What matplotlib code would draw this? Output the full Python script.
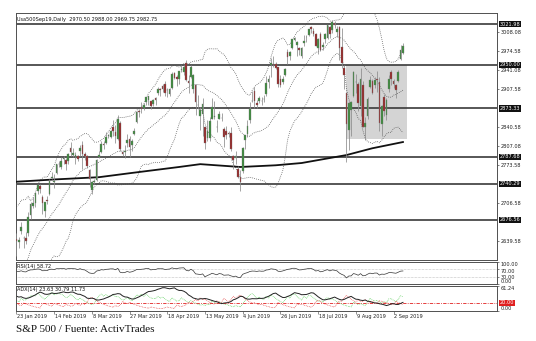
import numpy as np
import matplotlib
matplotlib.use("Agg")
import matplotlib.pyplot as plt
import matplotlib.transforms as mtrans

# ---------------- data ----------------
# warm-up bars (3 Dec 2018 - 22 Jan 2019), off-screen, used for the indicators
pre_opens = [2790, 2785, 2690, 2695, 2630, 2650, 2645, 2655, 2640, 2595, 2550, 2548, 2500, 2466, 2400, 2363,
             2442, 2498, 2498, 2477, 2491, 2474, 2535, 2568, 2580, 2573, 2588, 2580, 2585, 2614, 2610, 2651,
             2668, 2660]
pre_highs = [2800, 2790, 2700, 2708, 2642, 2674, 2685, 2670, 2645, 2602, 2573, 2585, 2510, 2505, 2410, 2468,
             2490, 2520, 2509, 2519, 2493, 2538, 2566, 2580, 2596, 2598, 2597, 2590, 2613, 2632, 2646, 2675,
             2670, 2662]
pre_lows = [2765, 2695, 2622, 2625, 2583, 2620, 2645, 2637, 2593, 2530, 2538, 2490, 2441, 2408, 2346, 2347,
            2397, 2472, 2482, 2467, 2444, 2474, 2525, 2547, 2568, 2562, 2581, 2570, 2585, 2612, 2601, 2648,
            2655, 2617]
pre_closes = [2790, 2700, 2696, 2633, 2638, 2637, 2651, 2651, 2600, 2546, 2546, 2507, 2467, 2417, 2351, 2468,
              2489, 2486, 2507, 2510, 2448, 2532, 2550, 2574, 2585, 2597, 2596, 2583, 2610, 2616, 2636, 2671,
              2662, 2633]

# visible daily bars, 23 Jan 2019 - 6 Sep 2019
opens = [2643, 2638, 2657, 2644, 2645, 2653, 2685, 2702, 2706, 2727, 2736, 2717, 2692, 2712, 2722, 2750,
         2743, 2760, 2776, 2770, 2784, 2782, 2780, 2804, 2792, 2787, 2789, 2799, 2809, 2793, 2790, 2765,
         2730, 2743, 2747, 2787, 2796, 2810, 2812, 2824, 2823, 2841, 2831, 2819, 2848, 2796, 2797, 2813,
         2820, 2809, 2828, 2849, 2868, 2876, 2874, 2884, 2888, 2886, 2881, 2892, 2900, 2908, 2912, 2916,
         2905, 2899, 2910, 2935, 2928, 2926, 2941, 2937, 2953, 2922, 2929, 2908, 2914, 2880, 2860, 2863,
         2840, 2821, 2821, 2855, 2858, 2841, 2855, 2857, 2837, 2833, 2830, 2830, 2790, 2786, 2767, 2752,
         2763, 2818, 2829, 2853, 2886, 2904, 2882, 2887, 2886, 2890, 2898, 2920, 2949, 2952, 2952, 2946,
         2926, 2919, 2932, 2972, 2965, 2979, 2994, 2985, 2980, 2966, 2989, 2999, 3003, 3017, 3010, 3005,
         2979, 3005, 2982, 2995, 2998, 3017, 3011, 3024, 3008, 3017, 2981, 2945, 2900, 2835, 2870, 2896,
         2920, 2916, 2877, 2915, 2840, 2860, 2911, 2921, 2915, 2925, 2920, 2845, 2893, 2862, 2907, 2938,
         2921, 2915, 2922, 2960, 2970.50]
highs = [2653, 2647, 2673, 2648, 2655, 2690, 2708, 2717, 2725, 2740, 2740, 2720, 2709, 2719, 2748, 2761,
         2758, 2776, 2781, 2788, 2790, 2785, 2794, 2814, 2803, 2796, 2792, 2808, 2816, 2796, 2791, 2767,
         2745, 2748, 2784, 2799, 2816, 2815, 2831, 2828, 2836, 2852, 2844, 2861, 2851, 2799, 2809, 2829,
         2825, 2820, 2838, 2869, 2872, 2885, 2882, 2894, 2895, 2887, 2890, 2894, 2911, 2909, 2917, 2921,
         2909, 2910, 2937, 2937, 2933, 2940, 2950, 2949, 2959, 2932, 2949, 2934, 2917, 2897, 2875, 2891,
         2841, 2853, 2859, 2892, 2886, 2853, 2868, 2865, 2840, 2842, 2834, 2841, 2792, 2799, 2772, 2764,
         2806, 2827, 2852, 2885, 2904, 2911, 2888, 2896, 2894, 2897, 2931, 2932, 2962, 2965, 2955, 2947,
         2933, 2930, 2944, 2978, 2974, 2996, 3000, 2992, 2982, 2981, 3003, 3003, 3014, 3018, 3015, 3006,
         2998, 3008, 2990, 3006, 3020, 3019, 3029, 3027, 3018, 3018, 3015, 2950, 2901, 2885, 2886, 2940,
         2934, 2920, 2945, 2922, 2858, 2893, 2931, 2925, 2928, 2940, 2928, 2880, 2898, 2891, 2932, 2941,
         2926, 2917, 2941, 2985, 2988.00]
lows = [2613, 2627, 2652, 2627, 2634, 2648, 2678, 2697, 2700, 2723, 2725, 2687, 2681, 2705, 2720, 2749,
        2733, 2757, 2770, 2767, 2775, 2765, 2776, 2790, 2787, 2776, 2780, 2790, 2767, 2782, 2768, 2735,
        2722, 2740, 2745, 2785, 2795, 2801, 2810, 2821, 2821, 2824, 2812, 2817, 2799, 2789, 2785, 2805,
        2787, 2798, 2826, 2848, 2858, 2865, 2870, 2880, 2880, 2873, 2878, 2879, 2897, 2896, 2902, 2896,
        2893, 2896, 2908, 2926, 2913, 2917, 2937, 2932, 2921, 2901, 2927, 2900, 2862, 2873, 2836, 2825,
        2801, 2816, 2815, 2855, 2854, 2831, 2854, 2851, 2805, 2820, 2823, 2799, 2766, 2776, 2750, 2728,
        2759, 2801, 2822, 2847, 2884, 2874, 2874, 2883, 2880, 2884, 2895, 2910, 2929, 2946, 2943, 2911,
        2911, 2917, 2930, 2952, 2958, 2978, 2992, 2966, 2968, 2963, 2984, 2991, 3001, 3007, 3001, 2984,
        2970, 2975, 2976, 2988, 2996, 2998, 3007, 3015, 3000, 2958, 2945, 2908, 2778, 2800, 2824, 2894,
        2900, 2868, 2860, 2840, 2818, 2855, 2909, 2898, 2910, 2902, 2834, 2825, 2860, 2853, 2903, 2914,
        2910, 2891, 2920, 2958, 2969.75]
closes = [2639, 2642, 2665, 2644, 2640, 2681, 2704, 2707, 2725, 2738, 2732, 2706, 2708, 2710, 2745, 2753,
          2746, 2776, 2775, 2780, 2785, 2775, 2793, 2796, 2794, 2792, 2784, 2804, 2793, 2790, 2771, 2749,
          2743, 2745, 2783, 2792, 2811, 2808, 2822, 2826, 2833, 2833, 2824, 2855, 2801, 2793, 2798, 2818,
          2805, 2815, 2834, 2867, 2867, 2873, 2879, 2893, 2896, 2878, 2888, 2888, 2907, 2906, 2907, 2900,
          2905, 2908, 2934, 2927, 2926, 2940, 2943, 2946, 2924, 2918, 2946, 2932, 2884, 2879, 2871, 2881,
          2812, 2834, 2851, 2876, 2860, 2840, 2864, 2856, 2822, 2826, 2828, 2802, 2783, 2789, 2752, 2744,
          2803, 2826, 2843, 2873, 2887, 2886, 2880, 2892, 2887, 2890, 2918, 2926, 2954, 2950, 2945, 2917,
          2914, 2925, 2942, 2964, 2973, 2996, 2998, 2990, 2976, 2980, 2993, 3000, 3014, 3014, 3004, 2984,
          2995, 2977, 2985, 3005, 3020, 3004, 3026, 3021, 3013, 2980, 2954, 2932, 2845, 2882, 2884, 2938,
          2919, 2883, 2926, 2841, 2848, 2889, 2924, 2901, 2924, 2923, 2847, 2878, 2869, 2888, 2925, 2926,
          2917, 2906, 2938, 2976, 2982.75]

# 200-period moving average, read at a few bars
ma200_bars = [0, 16, 35, 48, 69, 78, 95, 110, 121, 140, 151, 164]
ma200_vals = [2744, 2748, 2752, 2759, 2770, 2775, 2770, 2773, 2777, 2791, 2803, 2814]

# horizontal levels
levels = [3021.98, 2950.00, 2873.33, 2787.68, 2740.29, 2676.56]

# shaded range box (bars and prices)
box_bars = [140, 165.8]
box_prices = [2819, 2950.00]

# axis labels
price_ticks = [2639.58, 2706.58, 2773.58, 2807.08, 2840.58, 2907.58, 2941.08, 2974.58, 3008.08]
date_bars = [0, 16, 32, 48, 64, 80, 96, 112, 128, 144, 160]
date_labels = ['23 Jan 2019', '14 Feb 2019', '8 Mar 2019', '27 Mar 2019', '18 Apr 2019', '13 May 2019',
               '4 Jun 2019', '26 Jun 2019', '18 Jul 2019', '9 Aug 2019', '2 Sep 2019']
title_text = 'Usa500Sep19,Daily  2970.50 2988.00 2969.75 2982.75'
rsi_text = 'RSI(14) 58.72'
adx_text = 'ADX(14) 23.63 30.79 11.73'
caption = 'S&P 500 / Fuente: ActivTrades'

# ---------------- indicators ----------------
H = np.array(pre_highs + highs, float)
L = np.array(pre_lows + lows, float)
C = np.array(pre_closes + closes, float)
npre = len(pre_closes)
n = len(closes)


def ema(x, alpha):
    out = np.empty_like(x)
    out[0] = x[0]
    for i in range(1, len(x)):
        out[i] = alpha * x[i] + (1 - alpha) * out[i - 1]
    return out


# Bollinger bands (20, 2)
per = 20
mid = np.full(len(C), np.nan)
sd = np.full(len(C), np.nan)
for i in range(per - 1, len(C)):
    w = C[i - per + 1:i + 1]
    mid[i] = w.mean()
    sd[i] = w.std()
up = mid + 2 * sd
dn = mid - 2 * sd

# RSI 14
d = np.diff(C, prepend=C[0])
g = ema(np.clip(d, 0, None), 1 / 14)
l_ = ema(np.clip(-d, 0, None), 1 / 14)
rsi = 100 - 100 / (1 + g / np.where(l_ == 0, 1e-9, l_))

# ADX 14 (MT4 style: per-bar DI smoothed with EMA 2/15)
ph = np.roll(H, 1); ph[0] = H[0]
pl = np.roll(L, 1); pl[0] = L[0]
pc = np.roll(C, 1); pc[0] = C[0]
pdm = np.clip(H - ph, 0, None)
mdm = np.clip(pl - L, 0, None)
pdm2 = np.where(pdm > mdm, pdm, 0)
mdm2 = np.where(mdm > pdm, mdm, 0)
tr = np.maximum(H - L, np.maximum(abs(H - pc), abs(L - pc)))
a = 2 / 15
pdi = ema(100 * pdm2 / tr, a)
mdi = ema(100 * mdm2 / tr, a)
ssum = pdi + mdi
dx = np.where(ssum > 0, 100 * abs(pdi - mdi) / np.where(ssum > 0, ssum, 1), 0.0)
adx = ema(dx, a)

vis = slice(npre, npre + n)
x = np.arange(n)

# ---------------- figure ----------------
W, Hh = 536, 341
fig = plt.figure(figsize=(W / 100, Hh / 100), dpi=100)
fig.patch.set_facecolor('white')


def axrect(x0, y0, x1, y1):
    return [x0 / W, 1 - y1 / Hh, (x1 - x0) / W, (y1 - y0) / Hh]


ax = fig.add_axes(axrect(16, 13, 497, 260))
ax_r = fig.add_axes(axrect(16, 262, 497, 284), sharex=ax)
ax_a = fig.add_axes(axrect(16, 286, 497, 311), sharex=ax)

fs = 3.6
tcol = '#202020'
for a_ in (ax, ax_r, ax_a):
    a_.set_facecolor('white')
    for s in a_.spines.values():
        s.set_color('#505050')
        s.set_linewidth(0.7)
    a_.yaxis.tick_right()
    a_.tick_params(axis='y', length=1.5, width=0.4, pad=0.8, labelsize=fs, colors=tcol)
    a_.tick_params(axis='x', length=0, labelbottom=False)

ax.set_xlim(-0.2, 203.9)
ax.set_ylim(2606, 3041.5)

# shaded box
ax.fill_between(box_bars, box_prices[0], box_prices[1], color='#d4d4d4', zorder=0.5, lw=0)

# levels
for lv in levels:
    ax.axhline(lv, color='#3a3a3a', lw=1.2, zorder=1)

# Bollinger
bstyle = dict(color='#4a4a4a', lw=0.55, ls=(0, (1, 1.6)), zorder=2)
ax.plot(x, up[vis], **bstyle)
ax.plot(x, mid[vis], **bstyle)
ax.plot(x, dn[vis], **bstyle)

# MA 200
ax.plot(ma200_bars, ma200_vals, color='#111111', lw=1.3, zorder=3)

# candles
o = np.array(opens); c = np.array(closes); h = np.array(highs); lo = np.array(lows)
bull = c >= o
ax.vlines(x, lo, h, color='#8c8c8c', lw=0.55, zorder=4)
ax.bar(x[bull], (c - o)[bull], bottom=o[bull], width=0.7, color='#3a8a3a', edgecolor='#7a7a7a',
       lw=0.25, zorder=5)
ax.bar(x[~bull], (o - c)[~bull], bottom=c[~bull], width=0.7, color='#962626', edgecolor='#7a7a7a',
       lw=0.25, zorder=5)

ax.set_yticks(price_ticks)
ax.set_yticklabels(['%.2f' % t for t in price_ticks])

tr_r = mtrans.blended_transform_factory(ax.transAxes, ax.transData)
for lv in levels:
    ax.text(1.006, lv, '%.2f' % lv, transform=tr_r, fontsize=fs, color='white', va='center', ha='left',
            zorder=10, clip_on=False,
            bbox=dict(facecolor='#111111', edgecolor='none', pad=0.5))

ax.text(0.003, 0.985, title_text, transform=ax.transAxes, fontsize=fs, color='#111111', va='top', ha='left')

# RSI panel
ax_r.set_ylim(0, 100)
ax_r.axhline(70, color='#909090', lw=0.4, ls=(0, (1, 1.5)))
ax_r.axhline(30, color='#909090', lw=0.4, ls=(0, (1, 1.5)))
ax_r.plot(x, rsi[vis], color='#333333', lw=0.5)
ax_r.set_yticks([100, 70, 30, 0])
ax_r.set_yticklabels(['100.00', '70.00', '30.00', '0.00'])
rl = ax_r.get_yticklabels()
rl[0].set_va('top'); rl[1].set_va('top'); rl[2].set_va('center'); rl[3].set_va('bottom')
ax_r.text(0.003, 0.93, rsi_text, transform=ax_r.transAxes, fontsize=fs, color='#111111', va='top', ha='left')

# ADX panel
ax_a.set_ylim(0, 61.24)
ax_a.plot(x, pdi[vis], color='#44c844', lw=0.5, ls=(0, (1, 1.3)))
ax_a.plot(x, mdi[vis], color='#e03030', lw=0.5, ls=(0, (1, 1.3)))
ax_a.axhline(20, color='#e02020', lw=0.6, ls=(0, (4, 1.5, 1, 1.5)))
ax_a.plot(x, adx[vis], color='#222222', lw=0.7)
ax_a.set_yticks([61.24, 0])
ax_a.set_yticklabels(['61.24', '0.00'])
al = ax_a.get_yticklabels()
al[0].set_va('top'); al[1].set_va('bottom')
tr_a = mtrans.blended_transform_factory(ax_a.transAxes, ax_a.transData)
ax_a.text(1.006, 20, '20.00', transform=tr_a, fontsize=fs, color='white', va='center', ha='left',
          zorder=10, clip_on=False, bbox=dict(facecolor='#e02020', edgecolor='none', pad=0.5))
ax_a.text(0.003, 0.95, adx_text, transform=ax_a.transAxes, fontsize=fs, color='#111111', va='top', ha='left')

# date labels
ax_a.set_xticks(date_bars)
ax_a.tick_params(axis='x', length=2, width=0.4, direction='out', colors='#404040')
tr_d = mtrans.blended_transform_factory(ax_a.transData, ax_a.transAxes)
for b, lab in zip(date_bars, date_labels):
    ax_a.text(b + 0.3, -0.12, lab, transform=tr_d, fontsize=fs, color=tcol, va='top', ha='left')

fig.text(16 / W, 1 - 330 / Hh, caption, fontsize=8, family='Liberation Serif', color='#111111',
         va='center', ha='left')

fig.savefig('out.png', dpi=100, facecolor='white')
